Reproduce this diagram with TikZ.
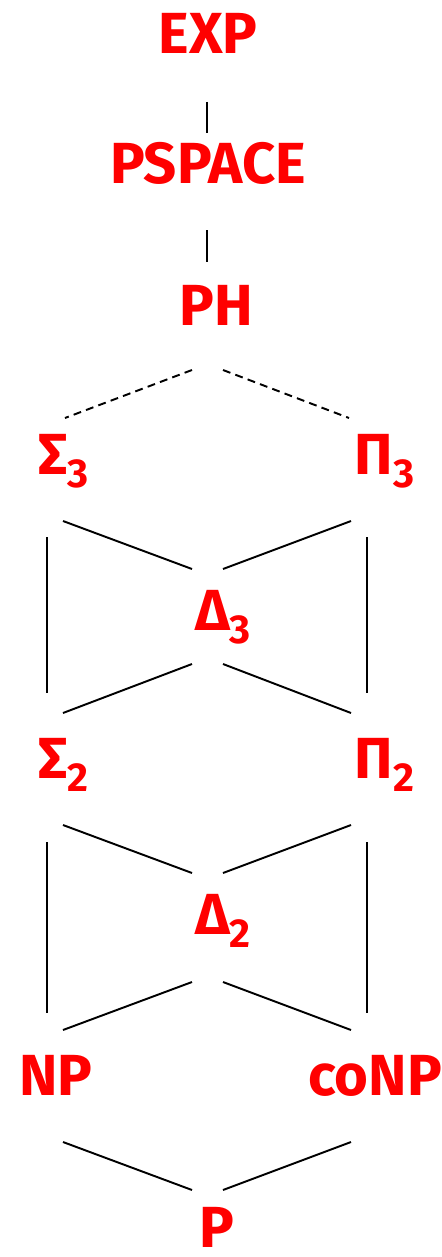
\documentclass[tikz,border=0pt]{standalone}
\usepackage{fontspec}
\setmainfont{Fira Sans}
\usetikzlibrary{calc}

\newcommand\lev[2]{#1\raisebox{-7.4pt}{\fontsize{23}{23}\selectfont #2}}

\begin{document}
\begin{tikzpicture}[
x=0.02cm, y=-0.02cm,
every node/.style={
text=red,
font=\fontsize{33}{36}\selectfont\bfseries,
inner sep=0pt
},
edge/.style={line width=1.1pt},
weak/.style={line width=1.1pt, dash pattern=on 4.5pt off 3pt}
]
\useasboundingbox (0,0) rectangle (442,1257);

\node (EXP) at (208,33) {EXP};

\node (PSP) at (208,163) {PSPACE};

\node (PH) at (216,305.5) {PH};

\node (S3) at (63.5,461.5) {\lev{Σ}{3}};

\node (P3) at (384.5,461.5) {\lev{Π}{3}};

\node (D3) at (223,617.5) {\lev{Δ}{3}};

\node (S2) at (63.5,765) {\lev{Σ}{2}};

\node (P2) at (384.5,765) {\lev{Π}{2}};

\node (D2) at (223,920.5) {\lev{Δ}{2}};

\node (NP) at (56,1075) {NP};

\node (coNP) at (375,1076) {coNP};

\node (P) at (216.5,1227) {P};

\draw[edge] ($(EXP)+(-1,69)$) -- ($(PSP)+(-1,-30)$);
\draw[edge] ($(PSP)+(-1,67)$) -- ($(PH)+(-9,-43.5)$);

\draw[weak] ($(PH)+(-24,64.5)$) -- ($(S3)+(1.5,-43.5)$);
\draw[weak] ($(PH)+(7,64.5)$) -- ($(P3)+(-35.5,-43.5)$);

\draw[edge] ($(S3)+(-0.5,59.5)$) -- ($(D3)+(-31,-48.5)$);
\draw[edge] ($(P3)+(-33.5,59.5)$) -- ($(D3)+(0,-48.5)$);
\draw[edge] ($(S3)+(-16.5,75.5)$) -- ($(S2)+(-16.5,-72)$);
\draw[edge] ($(P3)+(-17.5,75.5)$) -- ($(P2)+(-17.5,-72)$);
\draw[edge] ($(D3)+(-31,46.5)$) -- ($(S2)+(-0.5,-52)$);
\draw[edge] ($(D3)+(0,46.5)$) -- ($(P2)+(-33.5,-52)$);

\draw[edge] ($(S2)+(-0.5,60)$) -- ($(D2)+(-31,-47.5)$);
\draw[edge] ($(P2)+(-33.5,60)$) -- ($(D2)+(0,-47.5)$);
\draw[edge] ($(S2)+(-16.5,77)$) -- ($(NP)+(-9,-62)$);
\draw[edge] ($(P2)+(-17.5,77)$) -- ($(coNP)+(-8,-63)$);
\draw[edge] ($(D2)+(-31,61.5)$) -- ($(NP)+(7,-45)$);
\draw[edge] ($(D2)+(0,61.5)$) -- ($(coNP)+(-24,-46)$);

\draw[edge] ($(NP)+(7,67)$) -- ($(P)+(-24.5,-37)$);
\draw[edge] ($(coNP)+(-24,66)$) -- ($(P)+(6.5,-37)$);

\end{tikzpicture}
\end{document}
